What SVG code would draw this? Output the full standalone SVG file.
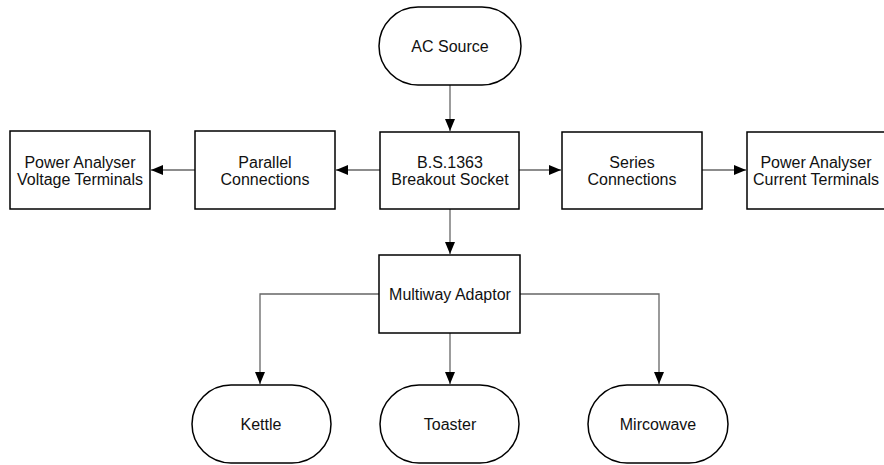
<svg xmlns="http://www.w3.org/2000/svg" width="884" height="465" viewBox="0 0 884 465">
<style>
.n{fill:#fff;stroke:#000;stroke-width:1.5}
.t{font-family:"Liberation Sans",Arial,sans-serif;font-size:16px;fill:#111;text-anchor:middle}
.c{fill:none;stroke:#666;stroke-width:1.3}
</style>
<defs>
<marker id="a" markerUnits="userSpaceOnUse" markerWidth="12" markerHeight="10" refX="12" refY="5" orient="auto" viewBox="0 0 12 10">
<path d="M0,0 L12,5 L0,10 Z" fill="#000"/>
</marker>
</defs>
<rect width="884" height="465" fill="#fff"/>
<g id="connectors">
<path class="c" d="M450,85 V131" marker-end="url(#a)"/>
<path class="c" d="M380,170 H336" marker-end="url(#a)"/>
<path class="c" d="M195,170 H151" marker-end="url(#a)"/>
<path class="c" d="M519,170 H561" marker-end="url(#a)"/>
<path class="c" d="M702,170 H746" marker-end="url(#a)"/>
<path class="c" d="M450,209 V254" marker-end="url(#a)"/>
<path class="c" d="M379,294 H260 V384" marker-end="url(#a)"/>
<path class="c" d="M450,333 V384" marker-end="url(#a)"/>
<path class="c" d="M520,294 H659 V384" marker-end="url(#a)"/>
</g>
<g id="ac-source">
<rect class="n" x="379" y="7" width="142" height="78" rx="39" ry="39"/>
<text class="t" x="450" y="52">AC Source</text>
</g>
<g id="voltage-terminals">
<rect class="n" x="10" y="131" width="140" height="78"/>
<text class="t" x="80" y="168">Power Analyser</text>
<text class="t" x="80" y="185">Voltage Terminals</text>
</g>
<g id="parallel">
<rect class="n" x="195" y="131" width="140" height="78"/>
<text class="t" x="265" y="168">Parallel</text>
<text class="t" x="265" y="185">Connections</text>
</g>
<g id="socket">
<rect class="n" x="380" y="132" width="139" height="77"/>
<text class="t" x="450" y="168">B.S.1363</text>
<text class="t" x="450" y="185">Breakout Socket</text>
</g>
<g id="series">
<rect class="n" x="562" y="132" width="140" height="77"/>
<text class="t" x="632" y="168">Series</text>
<text class="t" x="632" y="185">Connections</text>
</g>
<g id="current-terminals">
<rect class="n" x="747" y="132" width="142" height="77"/>
<text class="t" x="816" y="168">Power Analyser</text>
<text class="t" x="816" y="185">Current Terminals</text>
</g>
<g id="multiway">
<rect class="n" x="379" y="255" width="141" height="78"/>
<text class="t" x="450" y="300">Multiway Adaptor</text>
</g>
<g id="kettle">
<rect class="n" x="192" y="385" width="139" height="78" rx="39" ry="39"/>
<text class="t" x="261" y="430">Kettle</text>
</g>
<g id="toaster">
<rect class="n" x="380" y="385" width="139" height="78" rx="39" ry="39"/>
<text class="t" x="450" y="430">Toaster</text>
</g>
<g id="microwave">
<rect class="n" x="588" y="385" width="140" height="78" rx="39" ry="39"/>
<text class="t" x="658" y="430">Mircowave</text>
</g>
</svg>
